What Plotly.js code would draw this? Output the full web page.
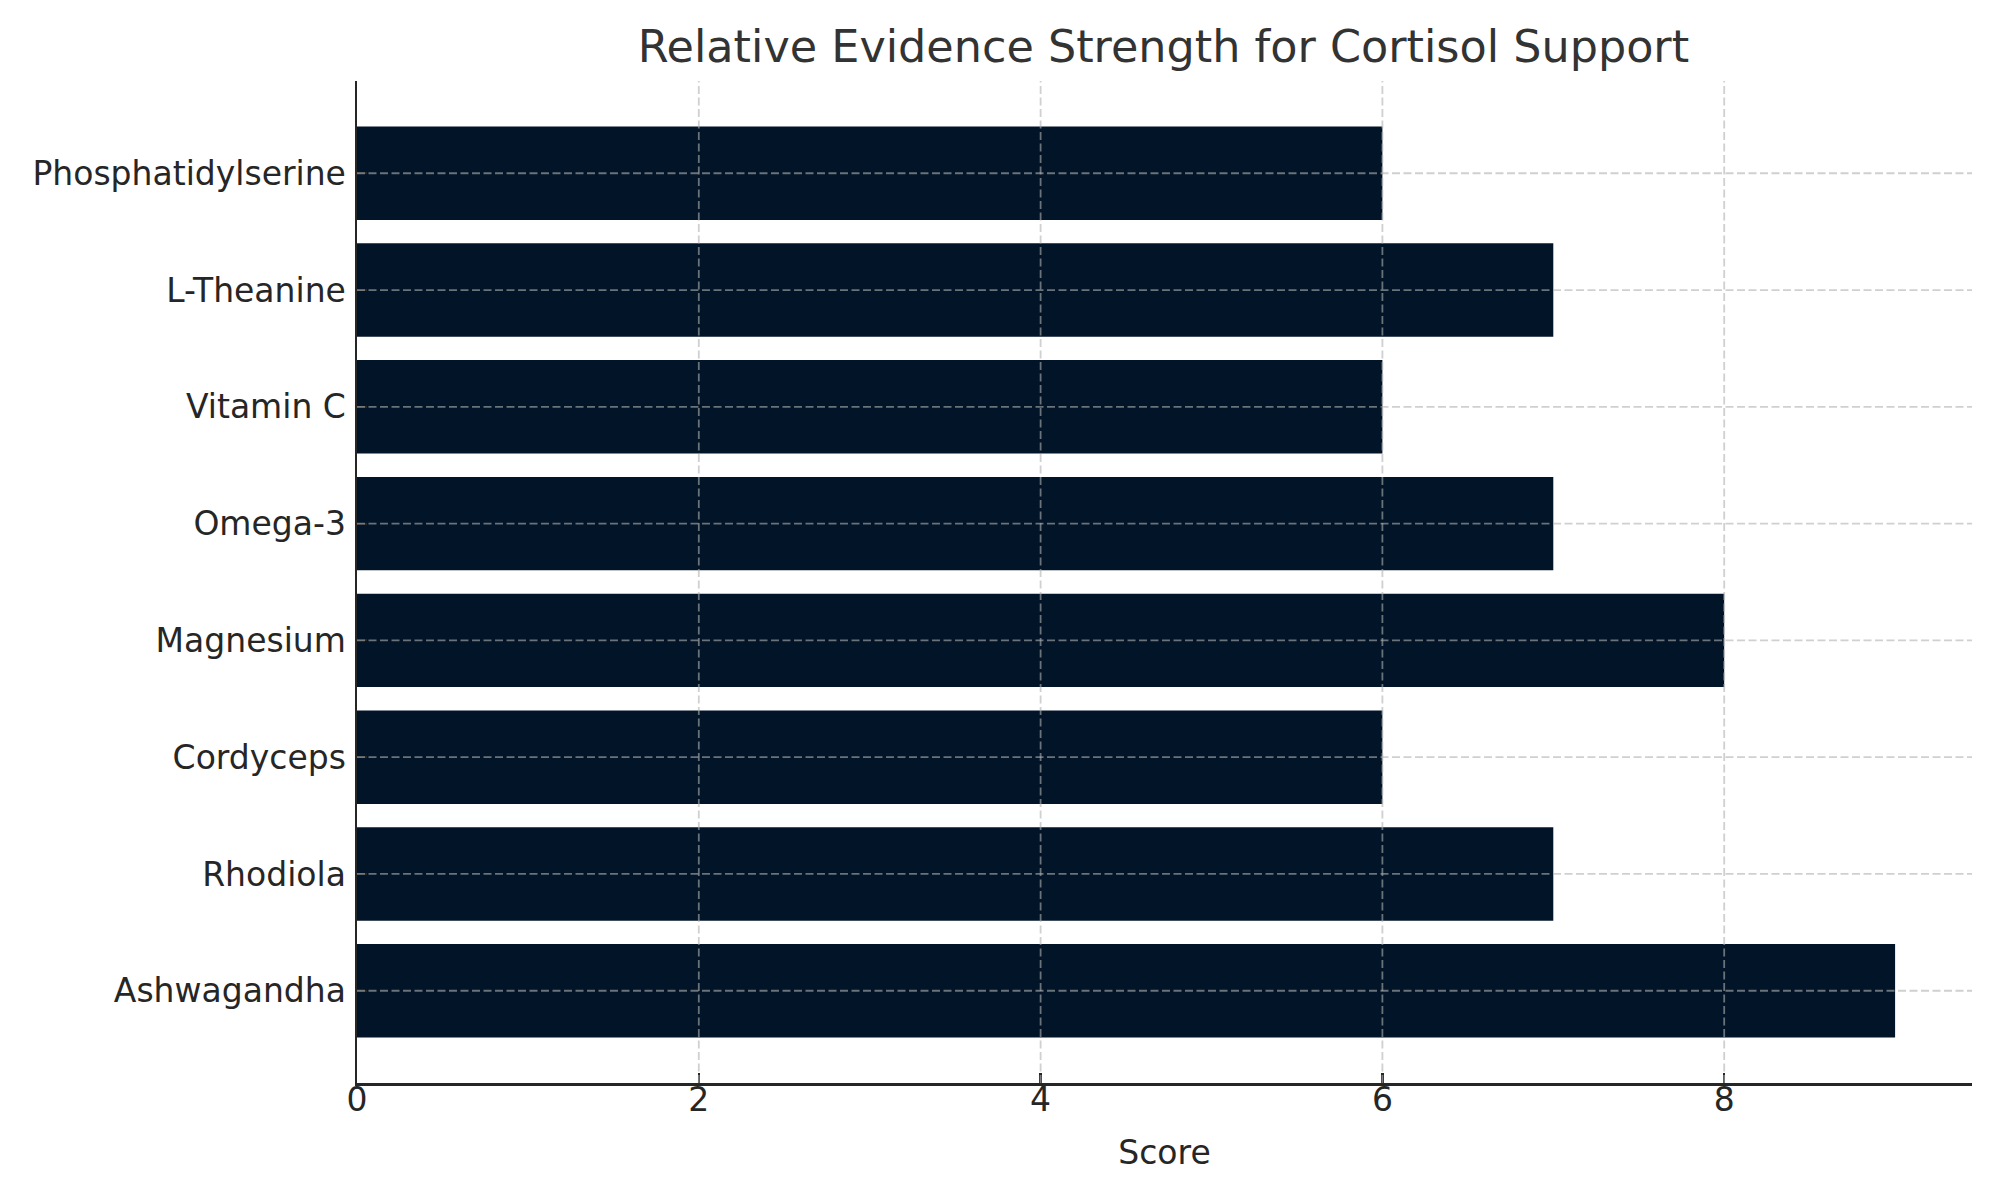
<!DOCTYPE html>
<html>
<head>
<meta charset="utf-8">
<script src="https://cdn.plot.ly/plotly-3.0.1.min.js"></script>
<style>html,body{margin:0;padding:0;background:#fff;}#chart{width:2000px;height:1200px;}</style>
</head>
<body>
<div id="chart"></div>
<script>
// Data
const supplements = ["Ashwagandha", "Rhodiola", "Cordyceps", "Magnesium", "Omega-3", "Vitamin C", "L-Theanine", "Phosphatidylserine"];
const scores = [9, 7, 6, 8, 7, 6, 7, 6];
const xTicks = [0, 2, 4, 6, 8];

const gridColor = "rgba(176,176,176,0.6)";
const gridDash = "8px,3.5px";
const shapes = [];
xTicks.filter(t => t !== 0).forEach(t => shapes.push({
  type: "line", xref: "x", yref: "paper", x0: t, x1: t, y0: 0, y1: 1,
  line: {color: gridColor, width: 1.8, dash: gridDash}, layer: "above"
}));
supplements.forEach((c, i) => shapes.push({
  type: "line", xref: "paper", yref: "y", x0: 0, x1: 1, y0: i, y1: i,
  line: {color: gridColor, width: 1.8, dash: gridDash}, layer: "above"
}));

const trace = {
  type: "bar", orientation: "h",
  x: scores, y: supplements,
  marker: {color: "#021428", line: {width: 0}},
  hoverinfo: "x+y"
};

const layout = {
  width: 2000, height: 1200,
  margin: {l: 357, r: 28, t: 81, b: 117},
  paper_bgcolor: "#ffffff", plot_bgcolor: "#ffffff",
  font: {family: "DejaVu Sans", size: 33, color: "#262626"},
  title: {text: "Relative Evidence Strength for Cortisol Support", font: {family: "DejaVu Sans", size: 44.5, color: "#333333"}, x: 0.5817, xanchor: "center", y: 0.961, yanchor: "middle"},
  bargap: 0.2,
  showlegend: false,
  xaxis: {
    range: [0, 9.45], tickvals: xTicks, ticktext: xTicks.map(String),
    showgrid: false, zeroline: false,
    showline: true, linecolor: "#262626", linewidth: 2.5,
    ticks: "inside", ticklen: 10, tickwidth: 2.2, tickcolor: "#262626",
    tickfont: {size: 33, color: "#262626"},
    ticklabelstandoff: -14,
    title: {text: "Score", font: {size: 33, color: "#262626"}, standoff: 23},
    mirror: false
  },
  yaxis: {
    type: "category", categoryorder: "array", categoryarray: supplements,
    range: [-0.79, 7.79],
    showgrid: false, zeroline: false,
    showline: true, linecolor: "#262626", linewidth: 2.5,
    ticks: "inside", ticklen: 10, tickwidth: 2.2, tickcolor: "#262626",
    tickfont: {size: 33, color: "#262626"},
    ticklabelstandoff: 2
  },
  shapes: shapes
};

Plotly.newPlot("chart", [trace], layout, {displayModeBar: false, staticPlot: true});
</script>
</body>
</html>
